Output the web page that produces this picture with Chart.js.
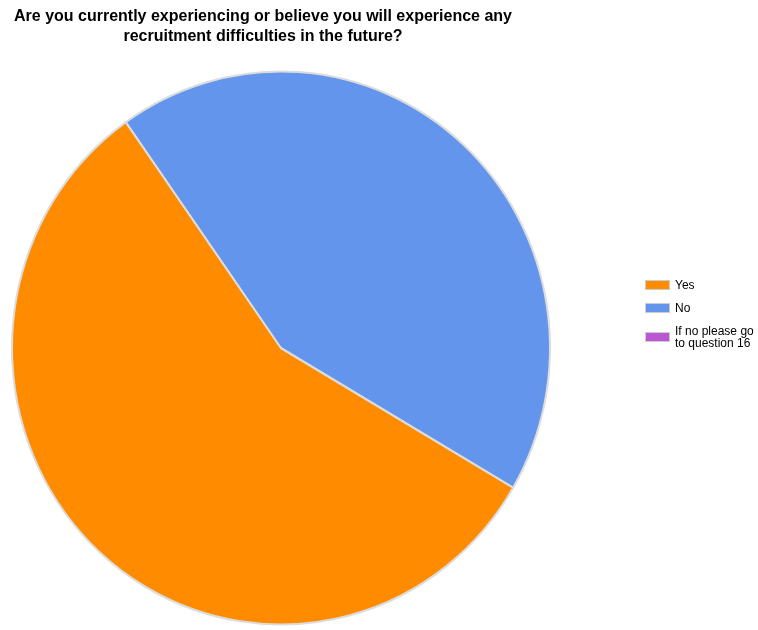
<!DOCTYPE html>
<html>
<head>
<meta charset="utf-8">
<script src="https://cdn.jsdelivr.net/npm/chart.js@4.4.0/dist/chart.umd.min.js"></script>
<style>
    html, body { margin: 0; padding: 0; background: #fff; }
    #wrap { position: relative; width: 758px; height: 630px; }
    #chart { position: absolute; left: 0; top: 0; }
    #title {
        position: absolute; left: 0; top: 6px; width: 526px;
        text-align: center; font: bold 16px "Liberation Sans", Arial, sans-serif;
        line-height: 20px; color: #000;
    }
    #legend {
        position: absolute; left: 645px; top: 279px;
        font: 12px "Liberation Sans", Arial, sans-serif; color: #000;
    }
    .item { display: flex; align-items: center; margin-bottom: 11px; line-height: 12px; }
    .box { width: 23px; height: 8px; border: 1px solid #ccc; margin-right: 5px; flex: none; }
</style>
</head>
<body>
<div id="wrap">
    <canvas id="chart" width="758" height="630"></canvas>
    <div id="title">Are you currently experiencing or believe you will experience any<br>recruitment difficulties in the future?</div>
    <div id="legend"></div>
</div>
<script>
// Réponses (pourcentages)
const answers = ['Yes', 'No', 'If no please go\nto question 16'];
const shares = [56.8, 43.2, 0];
const colors = ['#ff8c00', '#6495ed', '#ba55d3'];

// Légende HTML (le texte long passe sur deux lignes)
const legend = document.getElementById('legend');
answers.forEach((label, i) => {
    const item = document.createElement('div');
    item.className = 'item';
    const box = document.createElement('span');
    box.className = 'box';
    box.style.background = colors[i];
    const text = document.createElement('span');
    text.innerHTML = label.replace('\n', '<br>');
    item.appendChild(box);
    item.appendChild(text);
    legend.appendChild(item);
});

// Le camembert est légèrement plus haut que large
const stretchY = {
    id: 'stretchY',
    beforeDatasetsDraw(chart) {
        const a = chart.chartArea;
        const cx = (a.left + a.right) / 2, cy = (a.top + a.bottom) / 2;
        const ctx = chart.ctx;
        ctx.save();
        ctx.translate(cx, cy);
        ctx.scale(1, 1.028);
        ctx.translate(-cx, -cy);
    },
    afterDatasetsDraw(chart) {
        chart.ctx.restore();
    }
};

new Chart(document.getElementById('chart').getContext('2d'), {
    type: 'pie',
    data: {
        labels: answers,
        datasets: [{
            data: shares,
            backgroundColor: colors,
            borderColor: '#dcdcdc',
            borderWidth: 2
        }]
    },
    options: {
        responsive: false,
        animation: false,
        rotation: 120.3,
        layout: { padding: { left: 11, right: 207, top: 78, bottom: 12 } },
        plugins: {
            legend: { display: false },
            tooltip: { enabled: false }
        }
    },
    plugins: [stretchY]
});
</script>
</body>
</html>
